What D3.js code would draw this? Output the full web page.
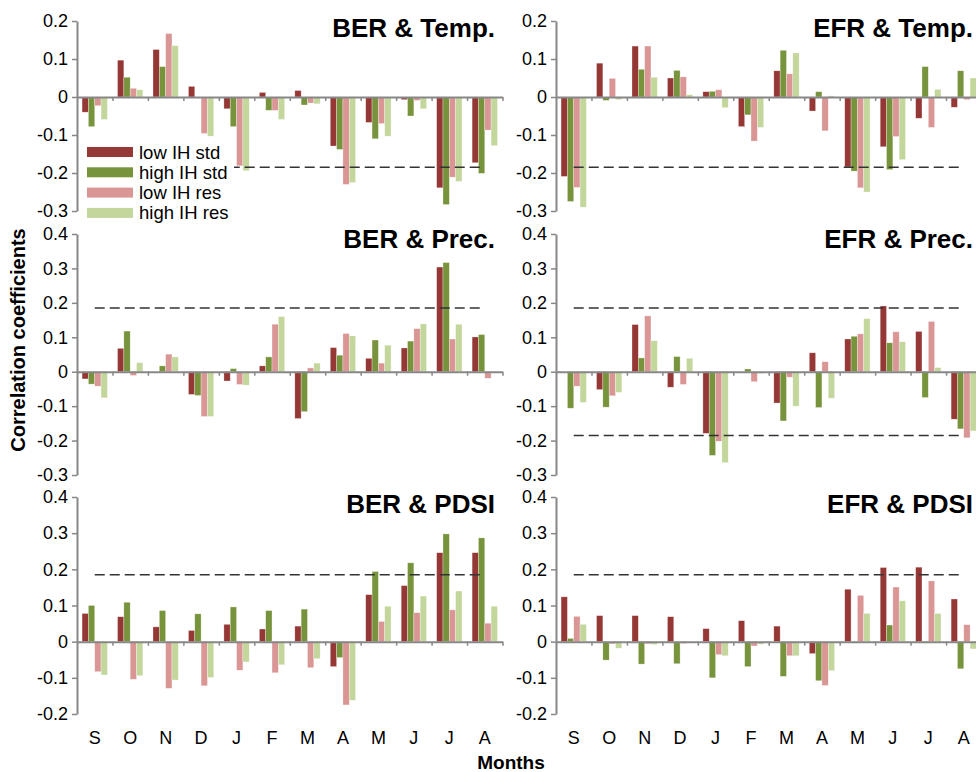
<!DOCTYPE html>
<html>
<head>
<meta charset="utf-8">
<script src="https://cdn.jsdelivr.net/npm/d3@7/dist/d3.min.js"></script>
<style>
body { margin: 0; background: #fff; }
text { font-family: "Liberation Sans", Arial, sans-serif; fill: #000; }
</style>
</head>
<body>
<div id="chart"></div>
<script>
const months = ["S", "O", "N", "D", "J", "F", "M", "A", "M", "J", "J", "A"];
const seriesNames = ["low IH std", "high IH std", "low IH res", "high IH res"];
const seriesColors = ["#953735", "#77933C", "#D99694", "#C3D69B"];

// rows: low IH std, high IH std, low IH res, high IH res
const berTemp = [
    [-0.040, 0.097, 0.125, 0.028, -0.031, 0.012, 0.017, -0.129, -0.067, -0.007, -0.239, -0.173],
    [-0.078, 0.052, 0.080, 0.000, -0.078, -0.035, -0.021, -0.138, -0.110, -0.050, -0.283, -0.201],
    [-0.023, 0.023, 0.167, -0.096, -0.181, -0.035, -0.016, -0.230, -0.070, -0.009, -0.211, -0.087],
    [-0.059, 0.019, 0.135, -0.103, -0.194, -0.059, -0.018, -0.225, -0.103, -0.031, -0.222, -0.128]
];
const efrTemp = [
    [-0.209, 0.089, 0.134, 0.050, 0.014, -0.078, 0.069, -0.037, -0.184, -0.131, -0.056, -0.027],
    [-0.275, -0.009, 0.073, 0.070, 0.015, -0.047, 0.123, 0.014, -0.195, -0.191, 0.080, 0.069],
    [-0.238, 0.049, 0.134, 0.053, 0.019, -0.116, 0.061, -0.089, -0.239, -0.104, -0.080, -0.007],
    [-0.290, -0.007, 0.052, 0.006, -0.028, -0.080, 0.116, 0.003, -0.250, -0.165, 0.020, 0.050]
];
const berPrec = [
    [-0.021, 0.068, 0.000, -0.066, -0.027, 0.017, -0.136, 0.070, 0.039, 0.069, 0.304, 0.101],
    [-0.036, 0.118, 0.017, -0.069, 0.009, 0.043, -0.116, 0.048, 0.092, 0.089, 0.317, 0.108],
    [-0.042, -0.011, 0.051, -0.130, -0.037, 0.138, 0.011, 0.111, 0.025, 0.125, 0.095, -0.019],
    [-0.076, 0.026, 0.043, -0.130, -0.039, 0.160, 0.025, 0.104, 0.077, 0.139, 0.138, 0.000]
];
const efrPrec = [
    [0.000, -0.052, 0.137, -0.045, -0.179, 0.000, -0.091, 0.055, 0.095, 0.191, 0.117, -0.138],
    [-0.106, -0.103, 0.040, 0.044, -0.243, 0.008, -0.143, -0.104, 0.103, 0.084, -0.075, -0.166],
    [-0.042, -0.070, 0.162, -0.037, -0.202, -0.029, -0.016, 0.029, 0.110, 0.116, 0.146, -0.192],
    [-0.089, -0.060, 0.090, 0.039, -0.264, -0.005, -0.100, -0.077, 0.154, 0.087, 0.012, -0.172]
];
const berPdsi = [
    [0.078, 0.069, 0.041, 0.031, 0.048, 0.035, 0.043, -0.069, 0.130, 0.155, 0.246, 0.246],
    [0.100, 0.109, 0.086, 0.077, 0.096, 0.086, 0.090, -0.044, 0.194, 0.218, 0.298, 0.287],
    [-0.083, -0.104, -0.129, -0.122, -0.079, -0.086, -0.072, -0.175, 0.056, 0.080, 0.088, 0.051],
    [-0.092, -0.094, -0.106, -0.099, -0.056, -0.064, -0.047, -0.162, 0.098, 0.126, 0.140, 0.098]
];
const efrPdsi = [
    [0.124, 0.072, 0.072, 0.069, 0.036, 0.058, 0.043, -0.033, 0.145, 0.205, 0.206, 0.118],
    [0.009, -0.051, -0.062, -0.061, -0.100, -0.069, -0.096, -0.108, -0.004, 0.046, -0.004, -0.075],
    [0.070, -0.006, -0.006, -0.005, -0.036, -0.012, -0.039, -0.121, 0.128, 0.151, 0.168, 0.047],
    [0.048, -0.018, -0.008, 0.000, -0.039, -0.007, -0.039, -0.080, 0.078, 0.113, 0.078, -0.020]
];

const significance = 0.185;

const panels = [
    { title: "BER & Temp.", data: berTemp, domain: [-0.3, 0.2], lines: [-significance], col: 0, row: 0 },
    { title: "EFR & Temp.", data: efrTemp, domain: [-0.3, 0.2], lines: [-significance], col: 1, row: 0 },
    { title: "BER & Prec.", data: berPrec, domain: [-0.3, 0.4], lines: [significance], col: 0, row: 1 },
    { title: "EFR & Prec.", data: efrPrec, domain: [-0.3, 0.4], lines: [significance, -significance], col: 1, row: 1 },
    { title: "BER & PDSI", data: berPdsi, domain: [-0.2, 0.4], lines: [significance], col: 0, row: 2 },
    { title: "EFR & PDSI", data: efrPdsi, domain: [-0.2, 0.4], lines: [significance], col: 1, row: 2 }
];

const width = 976, height = 772;
const colX = [77, 556];
const plotW = 425.5;
const rowY = [[21, 211], [234, 475], [497, 714]];
const titleBase = [37, 248, 513];
const axisColor = "#878787";

const svg = d3.select("#chart").append("svg")
    .attr("width", width)
    .attr("height", height);

const fmt = d => String(Math.round(d * 10) / 10);

panels.forEach(p => {
    const left = colX[p.col];
    const [top, bottom] = rowY[p.row];
    const g = svg.append("g");

    const x0 = d3.scaleBand().domain(d3.range(months.length)).range([left, left + plotW]);
    const x1 = d3.scaleBand().domain(d3.range(seriesNames.length)).range([0, x0.bandwidth()]).paddingOuter(0.8);
    const y = d3.scaleLinear().domain(p.domain).range([bottom, top]);

    // bars
    p.data.forEach((vals, s) => {
        g.append("g").selectAll("rect")
            .data(vals)
            .join("rect")
            .attr("x", (d, i) => x0(i) + x1(s))
            .attr("width", x1.bandwidth())
            .attr("y", d => y(Math.max(0, d)))
            .attr("height", d => Math.abs(y(d) - y(0)))
            .attr("fill", seriesColors[s])
            .attr("stroke", "#fff")
            .attr("stroke-opacity", 0.5)
            .attr("stroke-width", 0.6);
    });

    // y axis
    const ticks = d3.range(Math.round(p.domain[0] * 10), Math.round(p.domain[1] * 10) + 1).map(d => d / 10);
    const yAxis = g.append("g")
        .attr("transform", `translate(${left},0)`)
        .call(d3.axisLeft(y).tickValues(ticks).tickFormat(fmt).tickSize(5).tickSizeOuter(0).tickPadding(4));
    yAxis.select(".domain").attr("stroke", axisColor).attr("stroke-width", 2);
    yAxis.selectAll(".tick line").attr("stroke", axisColor).attr("stroke-width", 1.5);
    yAxis.selectAll(".tick text").attr("font-size", 18).attr("fill", "#000")
        .attr("font-family", "'Liberation Sans', Arial, sans-serif");

    // x axis along zero
    const xb = d3.scaleLinear().domain([0, months.length]).range([left, left + plotW]);
    const xAxis = g.append("g")
        .attr("transform", `translate(0,${y(0)})`)
        .call(d3.axisBottom(xb).tickValues(d3.range(1, months.length + 1)).tickFormat("").tickSize(4).tickSizeOuter(0));
    xAxis.select(".domain").attr("stroke", axisColor).attr("stroke-width", 2);
    xAxis.selectAll(".tick line").attr("stroke", axisColor).attr("stroke-width", 1.5);

    // significance lines
    p.lines.forEach(v => {
        g.append("line")
            .attr("x1", x0(0) + x0.bandwidth() / 2)
            .attr("x2", x0(months.length - 1) + x0.bandwidth() / 2)
            .attr("y1", y(v)).attr("y2", y(v))
            .attr("stroke", "#333")
            .attr("stroke-width", 1.5)
            .attr("stroke-dasharray", "10,5");
    });

    // month labels on the bottom row
    if (p.row === 2) {
        g.selectAll(".month")
            .data(months)
            .join("text")
            .attr("class", "month")
            .attr("x", (d, i) => x0(i) + x0.bandwidth() / 2)
            .attr("y", 744)
            .attr("text-anchor", "middle")
            .attr("font-size", 18)
            .text(d => d);
    }

    g.append("text")
        .attr("x", p.col === 0 ? 495 : 973)
        .attr("y", titleBase[p.row])
        .attr("text-anchor", "end")
        .attr("font-size", 26)
        .attr("font-weight", "bold")
        .text(p.title);
});

// legend in the first panel
const legend = svg.append("g").attr("transform", "translate(82,141)");
legend.append("rect")
    .attr("width", 152).attr("height", 80)
    .attr("fill", "#fff");
seriesNames.forEach((name, i) => {
    legend.append("rect")
        .attr("x", 5).attr("y", 6 + i * 20.3)
        .attr("width", 46).attr("height", 10)
        .attr("fill", seriesColors[i]);
    legend.append("text")
        .attr("x", 57).attr("y", 17.5 + i * 20.3)
        .attr("font-size", 18.5)
        .text(name);
});

svg.append("text")
    .attr("transform", "translate(25,340) rotate(-90)")
    .attr("text-anchor", "middle")
    .attr("font-size", 20)
    .attr("font-weight", "bold")
    .text("Correlation coefficients");

svg.append("text")
    .attr("x", 511)
    .attr("y", 769)
    .attr("text-anchor", "middle")
    .attr("font-size", 19)
    .attr("font-weight", "bold")
    .text("Months");
</script>
</body>
</html>
